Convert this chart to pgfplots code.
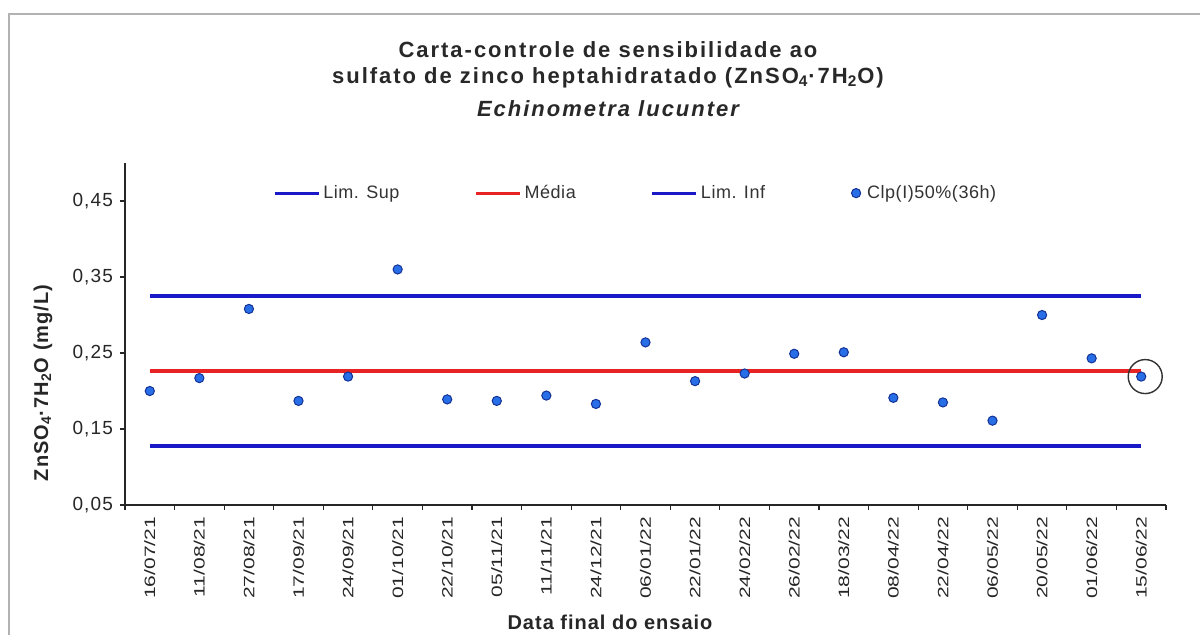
\documentclass[border=0pt]{standalone}
\usepackage{fontspec}
\setmainfont{Liberation Sans}
\newfontfamily\titlefont[LetterSpace=9]{Liberation Sans}
\newfontfamily\labfont[LetterSpace=5]{Liberation Sans}
\newfontfamily\xtfont[FakeStretch=1.4]{Liberation Sans}
\newfontfamily\legfont[LetterSpace=3]{Liberation Sans}
\newfontfamily\ytfont[LetterSpace=6]{Liberation Sans}
\usepackage{pgfplots}
\pgfplotsset{compat=1.18}
\definecolor{limblue}{RGB}{25,25,200}
\definecolor{meanred}{RGB}{232,35,35}
\definecolor{ptfill}{RGB}{40,110,230}
\definecolor{ptedge}{RGB}{20,50,150}
\definecolor{titlegray}{RGB}{40,40,40}
\pgfplotsset{
  linelegend/.style={legend image code/.code={\draw[##1, line width=1.6pt] (0pt,0pt) -- (22pt,0pt);}},
  dotlegend/.style={legend image code/.code={\path[draw=none] (0pt,0pt) -- (12pt,0pt); \draw[##1] plot coordinates {(8pt,0pt)};}},
}

\pgfplotstableread{
x y
0 0.200
1 0.217
2 0.308
3 0.187
4 0.219
5 0.360
6 0.189
7 0.187
8 0.194
9 0.183
10 0.264
11 0.213
12 0.223
13 0.249
14 0.251
15 0.191
16 0.185
17 0.161
18 0.300
19 0.243
20 0.219
}\clpdata

\begin{document}
\begin{tikzpicture}
\useasboundingbox (0,0) rectangle (600pt,-317pt);
\fill[white] (0,0) rectangle (600pt,-317pt);
\draw[gray!60, line width=1pt] (4.5pt,-318pt) -- (4.5pt,-7pt) -- (601pt,-7pt);
\node[anchor=base, text=titlegray, font=\titlefont\bfseries\fontsize{11}{13}\selectfont] at (304pt,-28.5pt) {Carta-controle de sensibilidade ao};
\node[anchor=base, text=titlegray, font=\titlefont\bfseries\fontsize{11}{13}\selectfont] at (304pt,-41.5pt) {sulfato de zinco heptahidratado (ZnSO\textsubscript{4}·7H\textsubscript{2}O)};
\node[anchor=base, text=titlegray, font=\titlefont\bfseries\itshape\fontsize{11}{13}\selectfont] at (304pt,-58pt) {Echinometra lucunter};
\node[text=black!85, font=\labfont\bfseries\fontsize{10}{12}\selectfont] at (305pt,-311pt) {Data final do ensaio};
\node[rotate=90, text=black!85, font=\labfont\bfseries\fontsize{10}{12}\selectfont] at (21.5pt,-191.5pt) {ZnSO\textsubscript{4}·7H\textsubscript{2}O\ (mg/L)};
\begin{axis}[
  at={(62.5pt,-252.5pt)}, anchor=south west,
  scale only axis, width=520.5pt, height=171pt,
  xmin=-0.5, xmax=20.5, ymin=0.05, ymax=0.5,
  axis x line*=bottom, axis y line*=left,
  axis line style={black!85, line width=0.6pt, -},
  clip=false,
  xtick={0,...,20},
  xticklabels={16/07/21,11/08/21,27/08/21,17/09/21,24/09/21,01/10/21,22/10/21,05/11/21,11/11/21,24/12/21,06/01/22,22/01/22,24/02/22,26/02/22,18/03/22,08/04/22,22/04/22,06/05/22,20/05/22,01/06/22,15/06/22},
  major x tick style={draw=none},
  minor xtick={-0.5,0.5,...,20.5},
  minor x tick style={black!85, line width=0.6pt},
  ytick={0.05,0.15,0.25,0.35,0.45},
  yticklabels={{0,05},{0,15},{0,25},{0,35},{0,45}},
  major y tick style={black!85, line width=0.6pt},
  tick align=outside,
  major tick length=2.5pt, minor tick length=2.5pt,
  yticklabel style={font=\ytfont\fontsize{9.5}{10}\selectfont, text=black!85},
  xticklabel style={rotate=90, anchor=east, font=\xtfont\fontsize{7.5}{8}\selectfont, text=black!85},
  legend columns=4,
  legend cell align=left,
  legend style={draw=none, fill=none, at={(0.491,0.912)}, anchor=center,
    font=\legfont\fontsize{9}{10}\selectfont, text=black!80,
    nodes={inner xsep=1.5pt},
    /tikz/every even column/.append style={column sep=36pt}},
  linelegend,
]
\addplot[limblue, line width=2pt] coordinates {(0,0.325) (20,0.325)};
\addlegendentry{Lim. Sup}
\addplot[meanred, line width=2pt] coordinates {(0,0.226) (20,0.226)};
\addlegendentry{Média}
\addplot[limblue, line width=2pt] coordinates {(0,0.127) (20,0.127)};
\addlegendentry{Lim. Inf}
\addplot[only marks, mark=*, mark size=2.3pt,
  mark options={fill=ptfill, draw=ptedge, line width=0.5pt}, dotlegend]
  table[x=x, y=y] {\clpdata};
\addlegendentry{Clp(I)50\%(36h)}
\draw[black!80, line width=0.7pt] (axis cs:20,0.219) ++(2pt,0pt) circle[radius=8.5pt];
\end{axis}
\end{tikzpicture}
\end{document}
